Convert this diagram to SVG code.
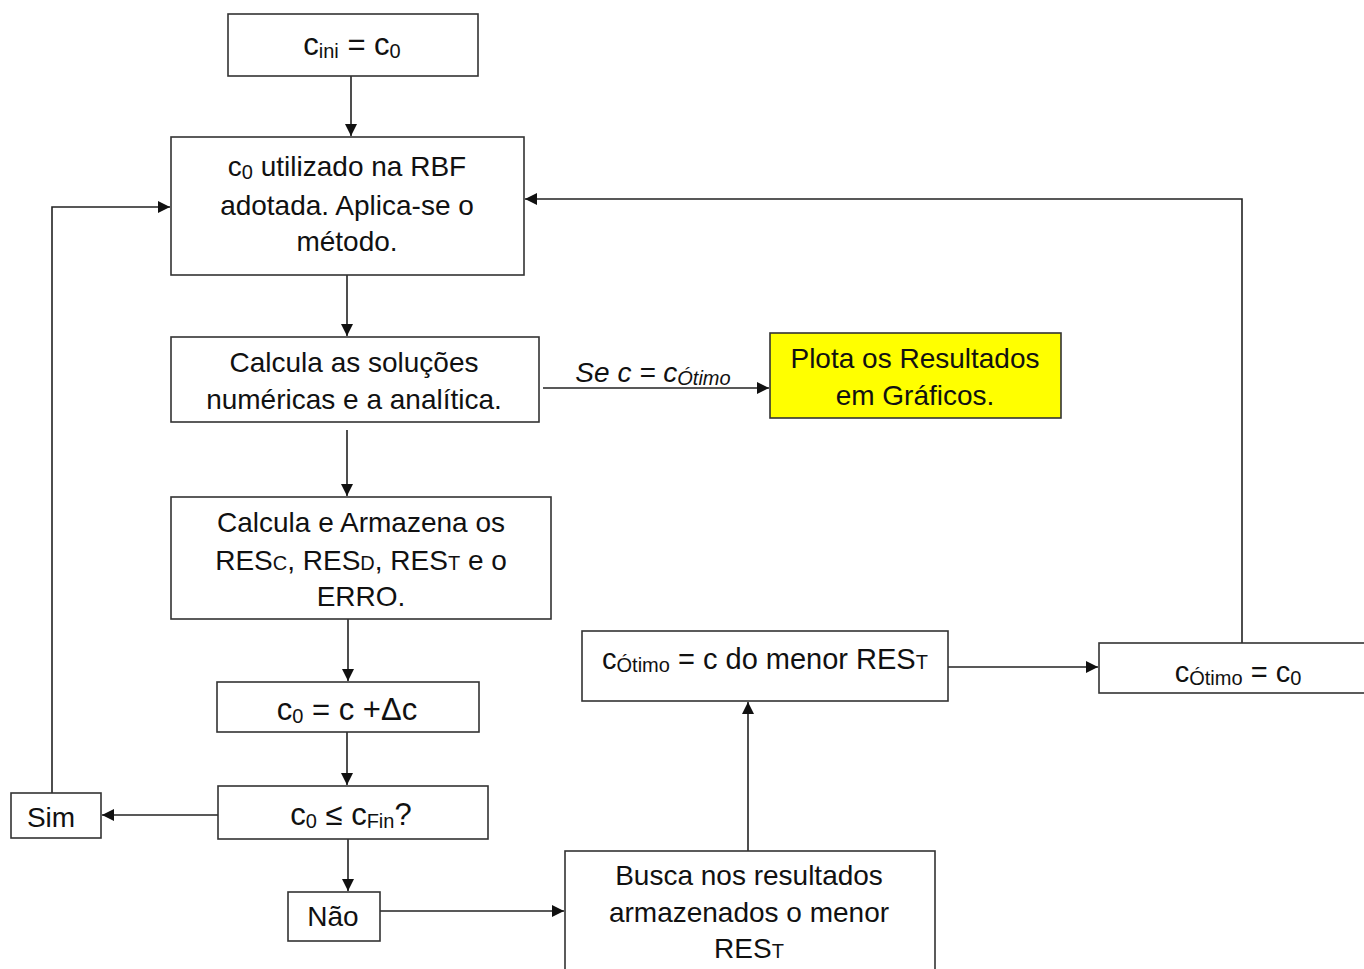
<svg xmlns="http://www.w3.org/2000/svg" width="1364" height="969" viewBox="0 0 1364 969">
<style>
.box{fill:#fff;stroke:#333;stroke-width:1.6}
.yel{fill:#ffff00;stroke:#333;stroke-width:1.6}
.t{font-family:"Liberation Sans",Arial,sans-serif;font-size:28px;fill:#111;text-anchor:middle}
.m{font-size:31px}
.s{font-size:20px}
.c{stroke:#222;stroke-width:1.6;fill:none}
</style>
<defs>
<marker id="ah" viewBox="0 0 12 12" refX="12" refY="6" markerWidth="13" markerHeight="12" markerUnits="userSpaceOnUse" orient="auto">
<path d="M0,0 L12,6 L0,12 z" fill="#111"/>
</marker>
</defs>
<rect width="1364" height="969" fill="#fff"/>
<g id="connectors">
<path class="c" d="M351,76 V136" marker-end="url(#ah)"/>
<path class="c" d="M347,275 V336" marker-end="url(#ah)"/>
<path class="c" d="M543,388 H769" marker-end="url(#ah)"/>
<path class="c" d="M347,430 V496" marker-end="url(#ah)"/>
<path class="c" d="M348,619 V681" marker-end="url(#ah)"/>
<path class="c" d="M347,732 V785" marker-end="url(#ah)"/>
<path class="c" d="M218,815 H102" marker-end="url(#ah)"/>
<path class="c" d="M52,793 V207 H170" marker-end="url(#ah)"/>
<path class="c" d="M348,839 V891" marker-end="url(#ah)"/>
<path class="c" d="M380,911 H564" marker-end="url(#ah)"/>
<path class="c" d="M748,851 V702" marker-end="url(#ah)"/>
<path class="c" d="M948,667 H1098" marker-end="url(#ah)"/>
<path class="c" d="M1242,643 V199 H525" marker-end="url(#ah)"/>
<text class="t" x="653" y="382" style="font-style:italic">Se c = c<tspan class="s" dy="3">Ótimo</tspan></text>
</g>
<g id="n1">
<rect class="box" x="228" y="14" width="250" height="62"/>
<text class="t m" x="352" y="55">c<tspan class="s" dy="3">ini</tspan><tspan dy="-3"> = c</tspan><tspan class="s" dy="3">0</tspan></text>
</g>
<g id="n2">
<rect class="box" x="171" y="137" width="353" height="138"/>
<text class="t" x="347" y="176">c<tspan class="s" dy="3">0</tspan><tspan dy="-3"> utilizado na RBF</tspan></text>
<text class="t" x="347" y="215">adotada. Aplica-se o</text>
<text class="t" x="347" y="251">método.</text>
</g>
<g id="n3">
<rect class="box" x="171" y="337" width="368" height="85"/>
<text class="t" x="354" y="372">Calcula as soluções</text>
<text class="t" x="354" y="409">numéricas e a analítica.</text>
</g>
<g id="n4">
<rect class="yel" x="770" y="333" width="291" height="85"/>
<text class="t" x="915" y="368">Plota os Resultados</text>
<text class="t" x="915" y="405">em Gráficos.</text>
</g>
<g id="n5">
<rect class="box" x="171" y="497" width="380" height="122"/>
<text class="t" x="361" y="532">Calcula e Armazena os</text>
<text class="t" x="361" y="570">RES<tspan class="s">C</tspan>, RES<tspan class="s">D</tspan>, RES<tspan class="s">T</tspan> e o</text>
<text class="t" x="361" y="606">ERRO.</text>
</g>
<g id="n6">
<rect class="box" x="217" y="682" width="262" height="50"/>
<text class="t m" x="347" y="720">c<tspan class="s" dy="3">0</tspan><tspan dy="-3"> = c +Δc</tspan></text>
</g>
<g id="n7">
<rect class="box" x="218" y="786" width="270" height="53"/>
<text class="t m" x="351" y="825">c<tspan class="s" dy="3">0</tspan><tspan dy="-3"> ≤ c</tspan><tspan class="s" dy="3">Fin</tspan><tspan dy="-3">?</tspan></text>
</g>
<g id="n8">
<rect class="box" x="11" y="793" width="90" height="45"/>
<text class="t" x="51" y="827">Sim</text>
</g>
<g id="n9">
<rect class="box" x="288" y="892" width="92" height="49"/>
<text class="t" x="333" y="926">Não</text>
</g>
<g id="n10">
<rect class="box" x="565" y="851" width="370" height="130"/>
<text class="t" x="749" y="885">Busca nos resultados</text>
<text class="t" x="749" y="922">armazenados o menor</text>
<text class="t" x="749" y="958">RES<tspan class="s">T</tspan></text>
</g>
<g id="n11">
<rect class="box" x="582" y="631" width="366" height="70"/>
<text class="t" x="765" y="669" style="font-size:29px">c<tspan class="s" dy="3">Ótimo</tspan><tspan dy="-3"> = c do menor RES</tspan><tspan class="s">T</tspan></text>
</g>
<g id="n12">
<rect class="box" x="1099" y="643" width="280" height="50"/>
<text class="t" x="1238" y="682" style="font-size:29px">c<tspan class="s" dy="3">Ótimo</tspan><tspan dy="-3"> = c</tspan><tspan class="s" dy="3">0</tspan></text>
</g>
</svg>
